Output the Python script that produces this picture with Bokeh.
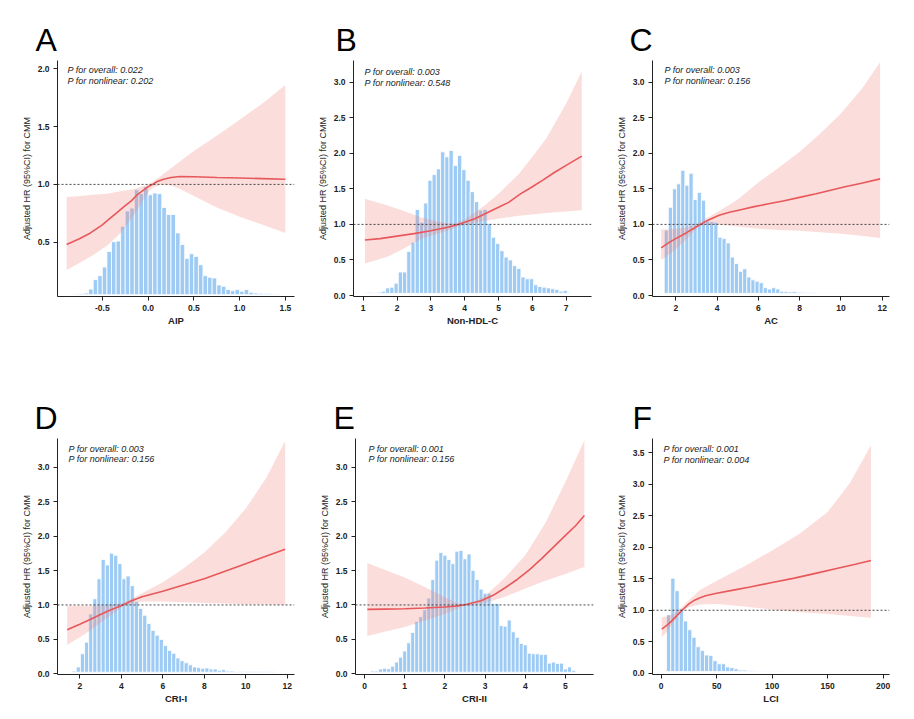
import numpy as np
from bokeh.plotting import figure
from bokeh.models import Range1d, FixedTicker, PrintfTickFormatter, Span, Label
from bokeh.layouts import column, row
from bokeh.embed import file_html
from bokeh.resources import INLINE

# ---------------- data ----------------
panel_letters = ["A", "B", "C", "D", "E", "F"]
x_labels = ["AIP", "Non-HDL-C", "AC", "CRI-I", "CRI-II", "LCI"]
p_overall = ["0.022", "0.003", "0.003", "0.003", "0.001", "0.001"]
p_nonlinear = ["0.202", "0.548", "0.156", "0.156", "0.156", "0.004"]
ref_hr = 1.0

# A: AIP
aip_hist_start, aip_hist_width = -0.85, 0.05
aip_hist_top = [0.050, 0.052, 0.055, 0.060, 0.094, 0.176, 0.21, 0.285, 0.42, 0.504, 0.51,
                0.637, 0.77, 0.795, 0.954, 0.92, 0.98, 0.91, 0.925, 0.92, 0.80, 0.74, 0.74,
                0.58, 0.48, 0.36, 0.40, 0.377, 0.305, 0.21, 0.196, 0.19, 0.13, 0.118, 0.09,
                0.08, 0.09, 0.075, 0.09, 0.067, 0.06, 0.058, 0.056, 0.055, 0.052, 0.05]
aip_hist_base = 0.046
aip_x = [-0.89, -0.75, -0.63, -0.5, -0.44, -0.35, -0.26, -0.18, -0.12, -0.05, 0.0, 0.05, 0.1,
         0.17, 0.25, 0.35, 0.5, 0.75, 1.0, 1.25, 1.5]
aip_hr = [0.48, 0.53, 0.58, 0.65, 0.69, 0.75, 0.81, 0.86, 0.91, 0.95, 0.98, 1.0, 1.025,
          1.045, 1.06, 1.068, 1.066, 1.06, 1.055, 1.05, 1.045]
aip_ci_x = [-0.89, -0.75, -0.6, -0.45, -0.3, -0.15, 0.0, 0.05, 0.15, 0.25, 0.35, 0.5, 0.75,
            1.0, 1.25, 1.5]
aip_lo = [0.26, 0.32, 0.39, 0.47, 0.58, 0.74, 0.93, 0.97, 1.0, 0.99, 0.96, 0.90, 0.80, 0.72,
          0.65, 0.58]
aip_hi = [0.89, 0.90, 0.91, 0.92, 0.94, 0.96, 1.00, 1.02, 1.08, 1.14, 1.20, 1.29, 1.42, 1.56,
          1.70, 1.86]

# B: Non-HDL-C
nhdl_hist_start, nhdl_hist_width = 1.0375, 0.125
nhdl_hist_top = [0.04, 0.045, 0.04, 0.047, 0.06, 0.107, 0.117, 0.174, 0.33, 0.33, 0.62, 0.75,
                 1.21, 1.03, 1.30, 1.62, 1.70, 1.78, 2.02, 1.95, 2.04, 1.83, 1.97, 1.77, 1.62,
                 1.46, 1.32, 1.20, 1.21, 1.01, 0.82, 0.73, 0.63, 0.54, 0.50, 0.42, 0.38, 0.26,
                 0.235, 0.235, 0.15, 0.127, 0.117, 0.107, 0.094, 0.084, 0.06, 0.07, 0.04]
nhdl_hist_base = 0.03
nhdl_x = [1.05, 1.5, 2.0, 2.5, 3.0, 3.5, 3.8, 4.0, 4.3, 4.65, 5.0, 5.3, 5.65, 6.0, 6.3, 6.65,
          7.0, 7.46]
nhdl_hr = [0.78, 0.80, 0.835, 0.87, 0.91, 0.96, 1.0, 1.03, 1.08, 1.16, 1.24, 1.31, 1.43, 1.53,
           1.62, 1.73, 1.83, 1.96]
nhdl_ci_x = [1.05, 1.7, 2.2, 2.7, 3.2, 3.6, 3.8, 4.0, 4.6, 5.0, 5.6, 6.0, 6.4, 7.0, 7.46]
nhdl_lo = [0.45, 0.54, 0.66, 0.79, 0.87, 0.93, 0.97, 0.99, 1.05, 1.08, 1.12, 1.14, 1.16, 1.18,
           1.20]
nhdl_hi = [1.36, 1.27, 1.19, 1.10, 1.04, 1.01, 1.03, 1.07, 1.27, 1.43, 1.71, 1.95, 2.2, 2.7,
           3.15]

# C: AC
ac_hist_start, ac_hist_width = 1.44, 0.2
ac_hist_top = [0.92, 1.24, 1.50, 1.57, 1.76, 1.55, 1.72, 1.35, 1.45, 1.34, 1.05, 1.04, 1.03,
               0.82, 0.80, 0.74, 0.54, 0.45, 0.34, 0.375, 0.26, 0.22, 0.20, 0.18, 0.11, 0.09,
               0.11, 0.09, 0.06, 0.055, 0.05, 0.055, 0.045, 0.045, 0.04, 0.038, 0.04, 0.036,
               0.035, 0.036, 0.035, 0.034, 0.035, 0.034, 0.034]
ac_hist_base = 0.03
ac_x = [1.29, 1.7, 2.0, 2.5, 2.9, 3.2, 3.5, 3.8, 4.1, 4.6, 5.2, 5.8, 6.5, 7.2, 8.0, 8.8, 9.5,
        10.2, 11.0, 11.9]
ac_hr = [0.67, 0.75, 0.80, 0.88, 0.95, 1.0, 1.05, 1.09, 1.13, 1.17, 1.21, 1.25, 1.29, 1.33,
         1.38, 1.43, 1.48, 1.53, 1.58, 1.64]
ac_ci_x = [1.29, 1.8, 2.3, 2.8, 3.1, 3.5, 4.0, 5.0, 6.0, 7.0, 8.0, 9.0, 10.0, 11.0, 11.9]
ac_lo = [0.50, 0.60, 0.73, 0.88, 0.97, 1.0, 1.0, 0.97, 0.94, 0.92, 0.91, 0.89, 0.87, 0.84, 0.81]
ac_hi = [0.93, 0.93, 0.95, 0.98, 1.02, 1.09, 1.17, 1.35, 1.59, 1.80, 2.02, 2.28, 2.56, 2.90,
         3.28]

# D: CRI-I
cri1_hist_start, cri1_hist_width = 1.63, 0.2
cri1_hist_top = [0.04, 0.10, 0.29, 0.46, 0.87, 1.09, 1.38, 1.66, 1.58, 1.75, 1.72, 1.60, 1.38,
                 1.42, 1.28, 1.05, 0.95, 0.85, 0.73, 0.63, 0.56, 0.50, 0.41, 0.34, 0.30, 0.23,
                 0.19, 0.16, 0.13, 0.10, 0.09, 0.08, 0.085, 0.07, 0.07, 0.05, 0.06, 0.04, 0.04,
                 0.035, 0.035, 0.032, 0.035, 0.032, 0.033, 0.032, 0.031, 0.032, 0.031]
cri1_hist_base = 0.023
cri1_x = [1.39, 2.0, 2.5, 3.0, 3.5, 4.0, 4.5, 5.0, 6.0, 7.0, 8.0, 9.0, 10.0, 11.0, 11.9]
cri1_hr = [0.64, 0.72, 0.79, 0.86, 0.93, 0.99, 1.06, 1.12, 1.20, 1.29, 1.38, 1.49, 1.60, 1.71,
           1.81]
cri1_ci_x = [1.39, 2.0, 2.5, 3.0, 3.5, 4.1, 5.0, 6.0, 7.0, 8.0, 9.0, 10.0, 11.0, 11.9]
cri1_lo = [0.42, 0.53, 0.63, 0.74, 0.85, 0.98, 1.05, 1.05, 1.04, 1.03, 1.02, 1.01, 1.01, 1.0]
cri1_hi = [0.99, 0.99, 0.99, 0.99, 1.0, 1.03, 1.17, 1.33, 1.53, 1.76, 2.05, 2.40, 2.85, 3.38]

# E: CRI-II
cri2_hist_start, cri2_hist_width = 0.15, 0.1
cri2_hist_top = [0.04, 0.04, 0.07, 0.08, 0.075, 0.11, 0.17, 0.24, 0.33, 0.45, 0.60, 0.76,
                 0.83, 0.93, 1.10, 1.37, 1.65, 1.76, 1.72, 1.66, 1.60, 1.78, 1.79, 1.67, 1.74,
                 1.50, 1.37, 1.23, 1.17, 1.17, 1.02, 1.02, 0.70, 0.69, 0.78, 0.61, 0.53, 0.44,
                 0.42, 0.30, 0.29, 0.29, 0.28, 0.28, 0.155, 0.17, 0.15, 0.155, 0.07, 0.10, 0.05]
cri2_hist_base = 0.023
cri2_x = [0.07, 0.5, 1.0, 1.5, 2.0, 2.3, 2.55, 2.9, 3.2, 3.5, 3.8, 4.1, 4.4, 4.7, 5.0, 5.25,
          5.47]
cri2_hr = [0.935, 0.94, 0.945, 0.955, 0.97, 0.985, 1.01, 1.06, 1.14, 1.25, 1.37, 1.51, 1.67,
           1.84, 2.01, 2.15, 2.30]
cri2_ci_x = [0.07, 0.5, 1.0, 1.5, 2.0, 2.3, 2.45, 2.7, 3.0, 3.5, 4.0, 4.5, 5.0, 5.47]
cri2_lo = [0.55, 0.61, 0.68, 0.77, 0.87, 0.94, 0.98, 1.0, 1.03, 1.12, 1.24, 1.35, 1.45, 1.55]
cri2_hi = [1.61, 1.51, 1.40, 1.26, 1.11, 1.03, 1.01, 1.03, 1.13, 1.40, 1.72, 2.19, 2.79, 3.39]

# F: LCI
lci_hist_start, lci_hist_width = 4.8, 3.8
lci_hist_top = [0.93, 1.51, 1.31, 1.02, 0.83, 0.69, 0.57, 0.42, 0.36, 0.29, 0.28, 0.20, 0.15,
                0.15, 0.10, 0.09, 0.07, 0.05, 0.05, 0.04, 0.04, 0.035, 0.035, 0.033, 0.035,
                0.032, 0.035, 0.032, 0.033]
lci_hist_base = 0.027
lci_x = [0.5, 5, 10, 15, 20, 25, 30, 35, 40, 50, 65, 80, 100, 120, 140, 160, 175, 189]
lci_hr = [0.70, 0.76, 0.84, 0.93, 1.02, 1.10, 1.16, 1.20, 1.23, 1.27, 1.32, 1.37, 1.44, 1.51,
          1.59, 1.67, 1.73, 1.79]
lci_ci_x = [0.5, 5, 10, 18, 25, 35, 50, 75, 100, 125, 150, 170, 189]
lci_lo = [0.57, 0.66, 0.78, 0.99, 1.05, 1.09, 1.10, 1.06, 1.01, 0.97, 0.94, 0.91, 0.88]
lci_hi = [0.89, 0.90, 0.93, 1.04, 1.16, 1.32, 1.47, 1.70, 1.95, 2.22, 2.56, 3.02, 3.62]

# axis ticks
x_ticks = [[-0.5, 0.0, 0.5, 1.0, 1.5], [1, 2, 3, 4, 5, 6, 7], [2, 4, 6, 8, 10, 12],
           [2, 4, 6, 8, 10, 12], [0, 1, 2, 3, 4, 5], [0, 50, 100, 150, 200]]
y_ticks = [[0.5, 1.0, 1.5, 2.0], [0, 0.5, 1, 1.5, 2, 2.5, 3], [0, 0.5, 1, 1.5, 2, 2.5, 3],
           [0, 0.5, 1, 1.5, 2, 2.5, 3], [0, 0.5, 1, 1.5, 2, 2.5, 3],
           [0, 0.5, 1, 1.5, 2, 2.5, 3, 3.5]]

# ---------------- layout / style ----------------
FONT = "Liberation Sans"
BAR = "#9ECBF4"
BAND = "#F08078"
LINE = "#E8575A"
AX = "#222222"

panels = [
    dict(hist=(aip_hist_start, aip_hist_width, aip_hist_top, aip_hist_base),
         curve=(aip_x, aip_hr), band=(aip_ci_x, aip_lo, aip_hi),
         xr=(-0.99, 1.6), yr=(0.03, 2.072), xfmt="%.1f",
         size=(305, 383), border=(57, 11, 60, 87), letter_off=-22, txt=(10, -9.5)),
    dict(hist=(nhdl_hist_start, nhdl_hist_width, nhdl_hist_top, nhdl_hist_base),
         curve=(nhdl_x, nhdl_hr), band=(nhdl_ci_x, nhdl_lo, nhdl_hi),
         xr=(0.713, 7.749), yr=(-0.014, 3.305), xfmt="%d",
         size=(298, 383), border=(48, 12, 60, 87), letter_off=-18, txt=(11, -11.5)),
    dict(hist=(ac_hist_start, ac_hist_width, ac_hist_top, ac_hist_base),
         curve=(ac_x, ac_hr), band=(ac_ci_x, ac_lo, ac_hi),
         xr=(0.871, 12.354), yr=(-0.014, 3.305), xfmt="%d",
         size=(300, 383), border=(49, 14, 60, 87), letter_off=-23, txt=(12, -9.5)),
    dict(hist=(cri1_hist_start, cri1_hist_width, cri1_hist_top, cri1_hist_base),
         curve=(cri1_x, cri1_hr), band=(cri1_ci_x, cri1_lo, cri1_hi),
         xr=(0.925, 12.35), yr=(-0.01, 3.417), xfmt="%d",
         size=(305, 328), border=(57, 11, 55, 37), letter_off=-23, txt=(11, -10)),
    dict(hist=(cri2_hist_start, cri2_hist_width, cri2_hist_top, cri2_hist_base),
         curve=(cri2_x, cri2_hr), band=(cri2_ci_x, cri2_lo, cri2_hi),
         xr=(-0.224, 5.697), yr=(-0.01, 3.417), xfmt="%d",
         size=(298, 328), border=(50, 10, 55, 37), letter_off=-22, txt=(13, -10)),
    dict(hist=(lci_hist_start, lci_hist_width, lci_hist_top, lci_hist_base),
         curve=(lci_x, lci_hr), band=(lci_ci_x, lci_lo, lci_hi),
         xr=(-7.84, 205.7), yr=(-0.02, 3.727), xfmt="%d",
         size=(300, 328), border=(49, 14, 55, 37), letter_off=-20, txt=(11, -10.5)),
]


def make_panel(i, cfg):
    w, h = cfg["size"]
    bl, br, bt, bb = cfg["border"]
    p = figure(width=w, height=h, output_backend="svg", toolbar_location=None,
               x_range=Range1d(*cfg["xr"]), y_range=Range1d(*cfg["yr"]),
               min_border_left=bl, min_border_right=br, min_border_top=bt,
               min_border_bottom=bb)
    p.outline_line_color = None
    p.background_fill_color = "white"
    p.border_fill_color = "white"
    p.xgrid.visible = False
    p.ygrid.visible = False

    # panel letter
    p.title.text = panel_letters[i]
    p.title.text_font = FONT
    p.title.text_font_size = "32px"
    p.title.text_font_style = "normal"
    p.title.text_color = "black"
    p.title.align = "left"
    p.title.offset = cfg["letter_off"]
    p.title.standoff = 6

    # histogram
    start, width, tops, base = cfg["hist"]
    tops = np.asarray(tops)
    left = start + width * np.arange(len(tops))
    p.quad(left=left, right=left + width, bottom=base, top=tops,
           fill_color=BAR, line_color="white", line_width=0.8)

    # confidence band
    bx, blo, bhi = cfg["band"]
    p.varea(x=bx, y1=blo, y2=bhi, fill_color=BAND, fill_alpha=0.26)

    # HR curve
    cx, cy = cfg["curve"]
    p.line(cx, cy, line_color=LINE, line_width=1.6)

    # reference line
    p.add_layout(Span(location=ref_hr, dimension="width", line_color="#333333",
                      line_width=0.9, line_dash="2 2"))

    # P-value texts
    tx, ty = cfg["txt"]
    for k, t in enumerate(["P for overall: " + p_overall[i],
                           "P for nonlinear: " + p_nonlinear[i]]):
        p.add_layout(Label(x=cfg["xr"][0], y=cfg["yr"][1], x_offset=tx,
                           y_offset=ty - 10.5 * k, text=t, text_font=FONT,
                           text_font_size="9px", text_font_style="italic",
                           text_color="#222222", text_baseline="middle",
                           text_align="left"))

    # axes
    p.xaxis.ticker = FixedTicker(ticks=x_ticks[i])
    p.yaxis.ticker = FixedTicker(ticks=y_ticks[i])
    p.xaxis.formatter = PrintfTickFormatter(format=cfg["xfmt"])
    p.yaxis.formatter = PrintfTickFormatter(format="%.1f")
    p.xaxis.axis_label = x_labels[i]
    p.yaxis.axis_label = "Adjusted HR (95%CI) for CMM"
    for ax in (p.xaxis[0], p.yaxis[0]):
        ax.axis_line_color = AX
        ax.axis_line_width = 1
        ax.major_tick_line_color = AX
        ax.major_tick_out = 4
        ax.major_tick_in = 0
        ax.minor_tick_line_color = None
        ax.major_label_text_font = FONT
        ax.major_label_text_font_size = "8.5px"
        ax.major_label_text_font_style = "bold"
        ax.major_label_text_color = AX
        ax.major_label_standoff = 4
        ax.axis_label_text_font = FONT
        ax.axis_label_text_color = AX
    p.xaxis.axis_label_text_font_size = "9.5px"
    p.xaxis.axis_label_text_font_style = "bold"
    p.xaxis.axis_label_standoff = 1
    p.yaxis.axis_label_text_font_size = "9px"
    p.yaxis.axis_label_text_font_style = "normal"
    p.yaxis.axis_label_standoff = 3
    return p


figs = [make_panel(i, c) for i, c in enumerate(panels)]
layout = column(row(*figs[:3]), row(*figs[3:]))

open("out.html", "w").write(file_html(layout, INLINE))
